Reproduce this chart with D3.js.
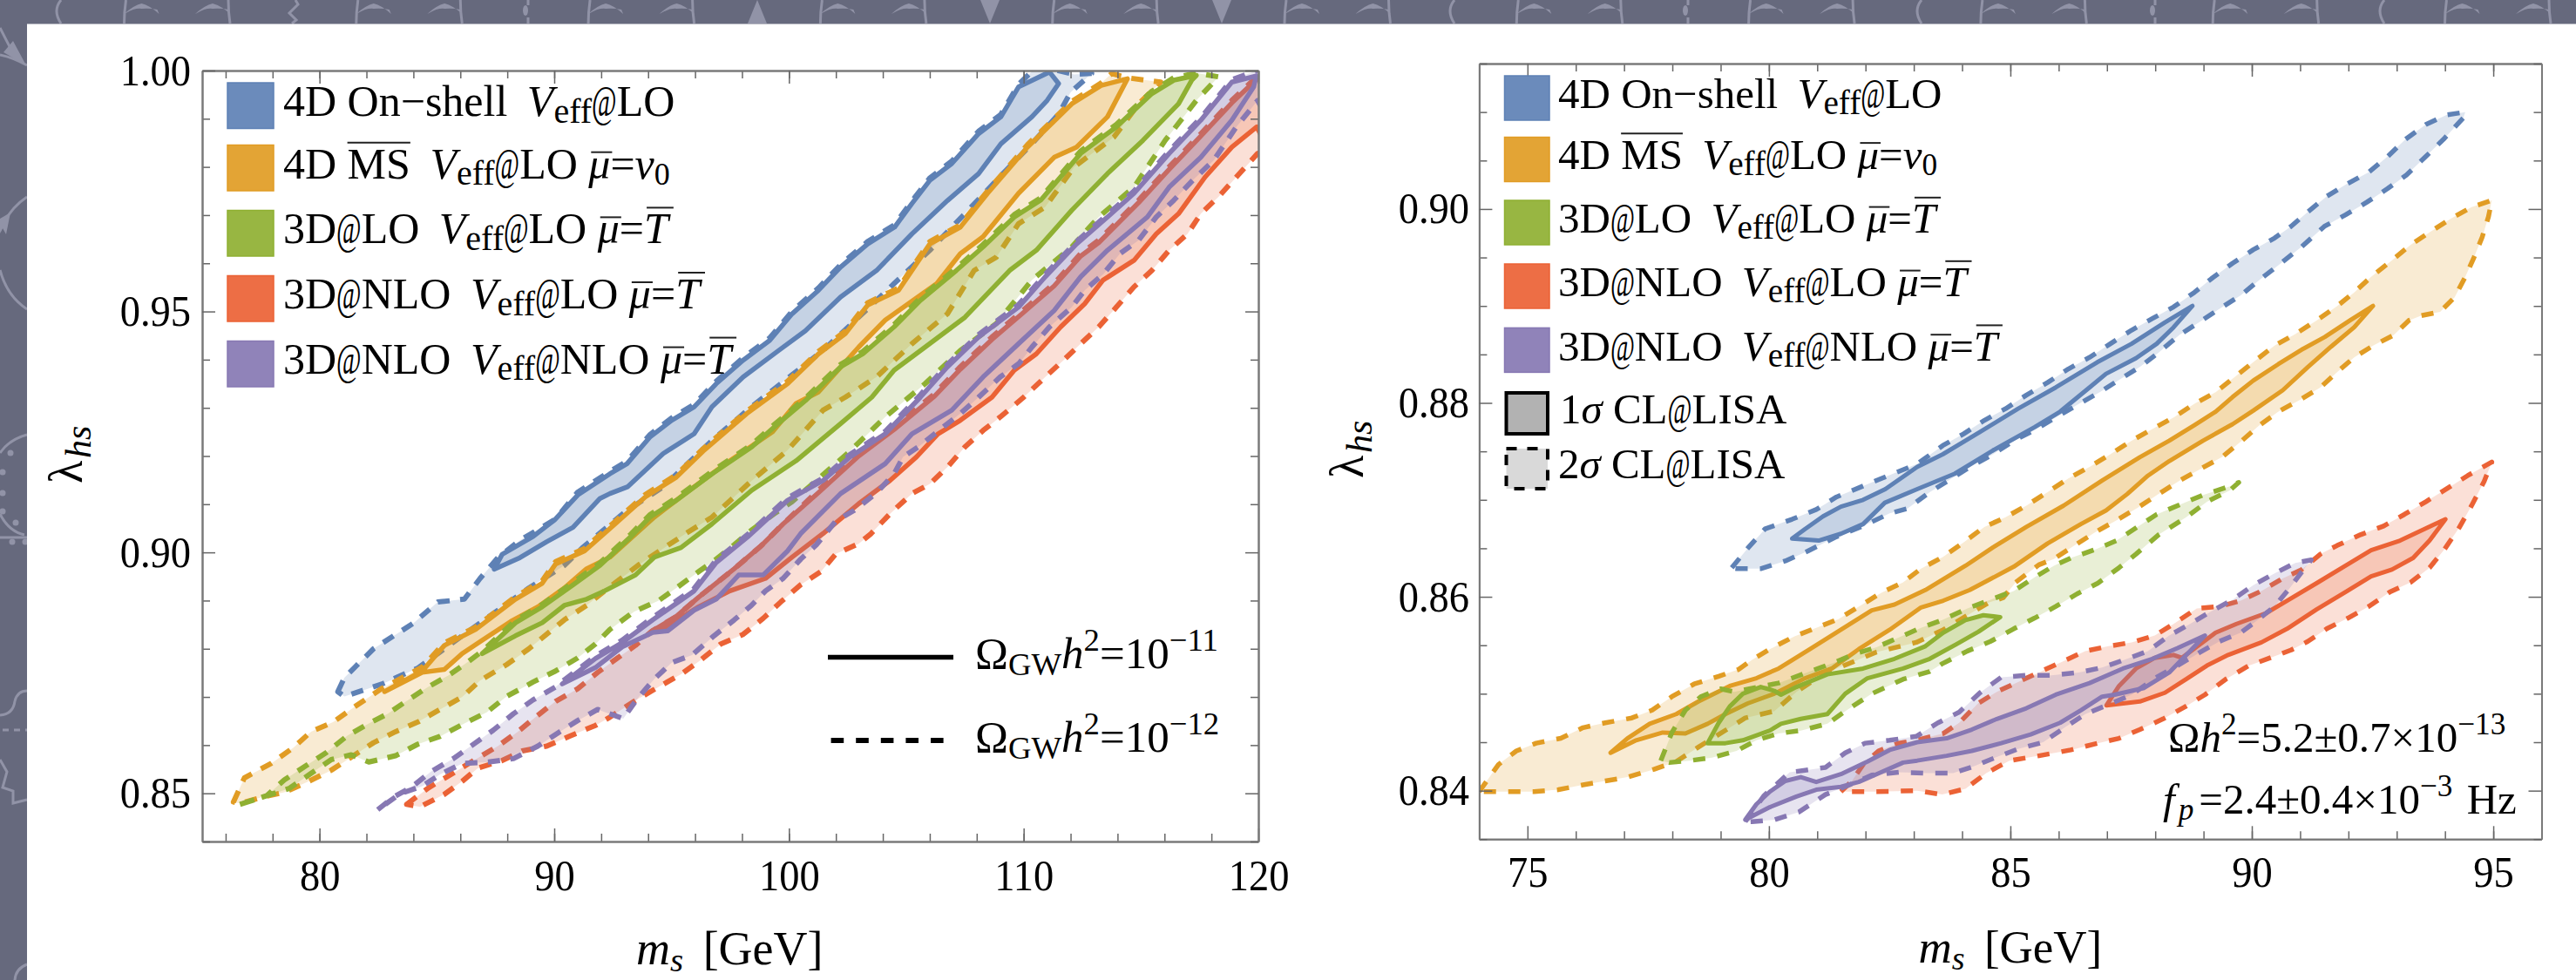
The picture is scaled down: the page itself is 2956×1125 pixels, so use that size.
<!DOCTYPE html>
<html>
<head>
<meta charset="utf-8">
<script src="https://cdn.jsdelivr.net/npm/d3@7"></script>
<style>
html, body { margin: 0; padding: 0; background: #fff; }
svg { display: block; }
text { font-family: "Liberation Serif", "Times New Roman", serif; fill: #000; }
</style>
</head>
<body>
<div id="chart"></div>
<script>
// ---- values: [m_s in GeV, lambda_hs] ----
// left panel, Omega h^2 = 1e-12 (dashed) and 1e-11 (solid)
const leftBlueOuter = [[80.78,.8711],[81.06,.874],[82.3,.88],[84,.8853],[85.04,.8897],[86.17,.8903],[86.84,.8946],[87.6,.8989],[88.54,.9025],[90.05,.9069],[91,.9125],[92.37,.9168],[93.1,.9189],[94.07,.9244],[95,.9279],[95.96,.9307],[96.9,.9355],[98.05,.9404],[99.18,.9445],[100.13,.95],[101.26,.9549],[102.2,.9597],[103.35,.9645],[104.5,.968],[105.24,.9729],[106,.9777],[106.94,.9812],[108.08,.9874],[109.03,.9909],[109.78,.9971],[110.6,1.001],[112.15,.9992],[112.9,.9994],[112,.9955],[111.5,.991],[110.35,.9848],[109,.978],[107.5,.9703],[106,.9627],[104.48,.9558],[102.97,.9488],[101.45,.9419],[98.4,.9302],[96.72,.9232],[94.64,.9136],[93.1,.9087],[92.9,.9079],[91.19,.9009],[90.43,.8973],[88.92,.8926],[87.4,.8873],[86.08,.8827],[85.04,.879],[84.19,.876],[82.67,.8727],[81.06,.8701]];
const leftBlueInner = [[87.44,.8965],[87.78,.8996],[89.1,.9033],[90.05,.9069],[91,.9119],[92.37,.9163],[93.1,.9184],[94.07,.9239],[95,.9274],[95.96,.9302],[96.9,.935],[98.05,.9399],[99.18,.944],[100.13,.9495],[101.26,.9544],[102.2,.9592],[103.35,.964],[104.5,.9675],[105.24,.9724],[106,.9772],[106.94,.9807],[108.08,.9869],[109.03,.9904],[109.78,.9966],[111.1,.9997],[111.49,.9973],[111,.9938],[110.35,.9904],[109.03,.9848],[108.08,.9786],[106.75,.973],[105.24,.9661],[103.73,.9585],[102.2,.953],[100.7,.946],[99.56,.9419],[98.05,.9364],[96.72,.9302],[95.96,.9246],[94.64,.9205],[93.12,.9136],[92.37,.9122],[91.95,.9112],[90.8,.9052],[89.68,.9022],[88.54,.8989]];
const leftOrangeOuter = [[76.33,.8482],[76.8,.8532],[77.94,.8562],[78.89,.8595],[79.64,.8628],[80.59,.8648],[81.54,.8681],[82.67,.8718],[84.38,.8762],[85.32,.8812],[86.65,.8845],[88.35,.8908],[89.49,.8941],[90.06,.8981],[91.29,.9008],[92.52,.9061],[93.88,.912],[95.2,.9161],[96.34,.9215],[98.2,.9293],[99.94,.9355],[101.26,.9417],[102.4,.9459],[103.35,.9518],[104.67,.9549],[106,.9645],[107.3,.968],[108.46,.975],[110.16,.9846],[112.05,.9936],[113.3,.9974],[113.76,.9994],[114.42,.9985],[115.84,.9976],[114.9,.9931],[113.85,.9862],[112.15,.98],[110.92,.9717],[109.78,.9682],[108.84,.9613],[107.89,.9585],[106.75,.9495],[105.24,.9433],[103.73,.9364],[102.4,.9322],[101.45,.9295],[99.94,.9212],[98.42,.9149],[96.72,.9073],[95.6,.9039],[93.65,.8976],[92.3,.8926],[91.38,.889],[90.43,.886],[88.92,.88],[87.97,.8767],[86.84,.8734],[86.08,.87],[85.13,.8674],[84.19,.8648],[83.24,.8628],[82.3,.8605],[81.35,.8575],[80.5,.8548],[79.55,.8525],[78.5,.8502],[77.56,.8492],[76.6,.8479]];
const leftOrangeInner = [[82.77,.8711],[84.38,.8754],[85.32,.8807],[86.65,.884],[88.35,.8903],[89.49,.8936],[90.06,.8976],[91.29,.9003],[92.52,.9056],[93.88,.9115],[95.2,.9156],[96.34,.921],[98.2,.9288],[99.94,.935],[101.26,.9412],[102.4,.9454],[103.35,.9513],[104.67,.9544],[106,.964],[107.3,.9675],[108.46,.9745],[110.16,.9841],[112.05,.9931],[113.3,.9969],[114.42,.9983],[113.57,.9904],[112.25,.9841],[111.3,.982],[109.78,.9745],[108.27,.9655],[107.3,.962],[106.3,.9558],[104.1,.9482],[102.97,.9426],[101.26,.9333],[100.3,.9309],[99.3,.925],[97.3,.9184],[95.77,.9129],[94.26,.9073],[92.37,.899],[91.38,.8966],[90.43,.8926],[89.3,.8887],[88.16,.8857],[87,.882],[86.08,.879],[85.32,.8757],[84.38,.8751]];
const leftGreenOuter = [[76.61,.8477],[77.75,.8495],[78.5,.8528],[79.45,.8558],[80.3,.8585],[81.2,.862],[82.1,.8645],[82.9,.8665],[83.6,.8688],[84.6,.872],[85.5,.8745],[86.3,.8772],[86.93,.8795],[88.35,.8859],[89.49,.8892],[90.81,.8938],[91.95,.8978],[93.27,.9038],[94.07,.9078],[95.2,.9113],[96.72,.9168],[98.42,.9224],[99.37,.9265],[100.7,.932],[102.2,.939],[103.15,.9417],[104.48,.9473],[105.6,.9528],[107.13,.959],[108.27,.9639],[109.6,.9701],[110.73,.9736],[112.43,.9833],[113.95,.9888],[115.46,.9957],[116.4,.9985],[117.36,.9995],[118.3,.9987],[117.36,.9938],[116.03,.9855],[114.7,.9758],[113.2,.9696],[112.05,.9634],[110.35,.9565],[108.84,.9475],[107.3,.9419],[105.8,.935],[104.1,.9281],[102.6,.921],[100.13,.9105],[99.37,.908],[98.4,.9046],[97.67,.9016],[96.9,.8986],[96.15,.896],[95.2,.8926],[94.45,.89],[93.4,.8877],[92.37,.884],[91.76,.881],[91,.8781],[90.06,.8754],[89.1,.8731],[87.97,.8701],[87.12,.8668],[86.17,.8645],[85.13,.8618],[84.19,.8602],[83.24,.8578],[82.1,.8565],[81.35,.858],[80.5,.857],[79.6,.854],[78.7,.851]];
const leftGreenInner = [[86.93,.879],[88.35,.8854],[89.49,.8887],[90.81,.8933],[91.95,.8973],[93.27,.9033],[94.07,.9073],[95.2,.9108],[96.72,.9163],[98.42,.9219],[99.37,.926],[100.7,.9315],[102.2,.9385],[103.15,.9412],[104.48,.9468],[105.6,.9523],[107.13,.9585],[108.27,.9634],[109.6,.9696],[110.73,.9731],[112.43,.9828],[113.95,.9883],[115.46,.9952],[116.4,.998],[117.36,.999],[117.16,.998],[116.6,.9931],[115.08,.9855],[113.57,.9786],[112.05,.971],[110.54,.9627],[109.4,.9585],[107.5,.9488],[105.8,.9426],[104.48,.9378],[103.53,.9322],[102.2,.9267],[100.3,.919],[98.42,.9129],[96.72,.9059],[95.4,.901],[94.26,.899],[93.46,.8953],[92.14,.892],[91.38,.8903],[90.43,.889],[89.49,.8854],[88.35,.8827]];
const leftRedOuter = [[83.71,.8477],[84.66,.8512],[85.7,.8542],[86.46,.8565],[87.6,.8598],[88.45,.8628],[89.2,.8658],[90.06,.8691],[91,.8717],[91.85,.8751],[92.7,.8781],[93.46,.8807],[94.17,.8837],[95.2,.8867],[96.15,.8907],[97.67,.8966],[98.8,.9013],[99.75,.9059],[101.26,.9129],[102.97,.9205],[104.48,.926],[106.2,.9329],[107.3,.9385],[108.65,.9447],[109.97,.9502],[111.3,.9558],[112.43,.962],[113.2,.9648],[114.9,.9731],[116.2,.98],[117.55,.9869],[118.87,.9938],[119.93,.9987],[120.5,.9985],[120.5,.9795],[119.97,.9828],[119.06,.9779],[118.3,.9738],[117.55,.9703],[116.98,.9661],[116.2,.9627],[115.46,.9585],[114.7,.9551],[113.95,.9509],[113.2,.9468],[112.43,.9433],[111.7,.9399],[110.92,.9364],[110,.9322],[109,.9281],[108.27,.9253],[107.5,.9219],[106.75,.9177],[106,.9142],[105.24,.9122],[104.3,.908],[103.5,.9039],[102.97,.9018],[102,.8997],[101.36,.896],[100.5,.8933],[99.65,.8897],[98.9,.8863],[98.05,.883],[97.1,.881],[96.25,.8777],[95.4,.8747],[94.45,.8721],[93.5,.8694],[92.37,.8658],[91.76,.8641],[90.62,.8618],[89.68,.8598],[88.64,.8588],[87.78,.8568],[86.74,.8552],[86.08,.8525],[85.32,.8498],[84.28,.8472]];
const leftRedInner = [[94.17,.8837],[95.2,.8867],[96.15,.8907],[97.67,.8966],[98.8,.9013],[99.75,.9059],[101.26,.9124],[102.97,.92],[104.48,.9255],[106.2,.9324],[107.3,.938],[108.65,.9442],[109.97,.9497],[111.3,.9553],[112.43,.9615],[113.2,.9643],[114.9,.9726],[116.2,.9795],[117.55,.9864],[118.87,.9933],[119.93,.9982],[120.5,.998],[120.5,.983],[119.93,.9883],[118.87,.9841],[117.73,.9779],[116.6,.9703],[115.65,.9661],[114.7,.9606],[113.38,.9565],[112.6,.9516],[111.58,.9468],[110.54,.9412],[109.6,.9378],[108.65,.9322],[107.3,.9274],[106.35,.9246],[105.43,.9198],[104.3,.9149],[102.97,.9101],[101.45,.9039],[100.13,.899],[99,.8946],[97.48,.892],[96.15,.8887],[94.83,.8847]];
const leftPurpleOuter = [[82.48,.8466],[83.15,.8492],[83.9,.8512],[84.75,.8545],[85.7,.8572],[86.65,.8605],[87.4,.8631],[88.26,.8665],[89.1,.8694],[90.06,.8721],[90.34,.8732],[91.76,.8785],[92.9,.8818],[94.2,.8865],[95.96,.8925],[96.9,.8984],[98.24,.9037],[99.94,.9113],[101.45,.9154],[102.6,.9203],[104.1,.9251],[105.6,.9327],[106.75,.939],[108.08,.9452],[109.78,.9514],[110.92,.9577],[112.25,.9645],[113.57,.9701],[114.7,.975],[116.2,.9833],[117.55,.9902],[118.87,.9981],[120.5,1.001],[120.5,.989],[119.97,.9938],[119.06,.9883],[118.1,.9814],[117.2,.9772],[116.4,.9731],[115.65,.9696],[114.9,.9648],[114.1,.962],[113.4,.9578],[112.6,.9544],[112.05,.9509],[111.1,.9468],[110.35,.9426],[109.8,.9392],[109,.9364],[108.08,.9322],[107.3,.9288],[106.57,.926],[105.6,.9222],[104.86,.9198],[104.48,.9163],[103.7,.9122],[102.77,.9087],[102,.9065],[101.17,.9016],[100.5,.8986],[99.75,.8946],[99,.892],[98.4,.889],[97.67,.886],[96.81,.8827],[95.87,.8787],[95,.8771],[94.26,.8737],[93.5,.8694],[92.94,.8655],[91.85,.8674],[91,.8651],[90.24,.8628],[89.3,.8598],[88.26,.8572],[87.2,.8565],[86.08,.8562],[85.13,.8539],[84.38,.8515],[83.43,.8499]];
const leftPurpleInner = [[90.34,.8727],[91.76,.878],[92.9,.8813],[94.2,.886],[95.96,.892],[96.9,.8979],[98.24,.9032],[99.94,.9108],[101.45,.9149],[102.6,.9198],[104.1,.9246],[105.6,.9322],[106.75,.9385],[108.08,.9447],[109.78,.9509],[110.92,.9572],[112.25,.964],[113.57,.9696],[114.7,.9745],[116.2,.9828],[117.55,.9897],[118.87,.9976],[119.91,.9989],[119.8,.9966],[118.87,.9897],[117.55,.982],[116.2,.9758],[115.27,.9696],[113.57,.9627],[112.43,.9572],[111.3,.9502],[109.78,.9433],[108.27,.9364],[106.94,.9295],[105.24,.9246],[104.1,.9184],[102.2,.9122],[100.5,.9039],[99.94,.9003],[98.9,.8953],[97.86,.8953],[96.9,.8903],[95.96,.888],[94.83,.8837],[94.2,.8834],[92.9,.8804],[91.76,.8761]];

// right panel, 1 sigma (solid) and 2 sigma (dashed)
const rightBlueOuter = [[79.23,.863],[79.56,.865],[79.92,.867],[80.48,.868],[80.98,.869],[81.4,.8703],[82.23,.872],[83.07,.8737],[83.6,.8756],[84.03,.8768],[84.46,.8782],[84.9,.8794],[85.33,.8808],[85.77,.8821],[86.2,.8835],[86.64,.8847],[87.07,.8861],[87.51,.8875],[87.94,.8887],[88.38,.8899],[88.81,.8914],[89.16,.8928],[89.6,.8944],[90.03,.8958],[90.47,.897],[90.81,.8982],[91.16,.8997],[91.55,.9013],[91.94,.9025],[92.42,.9038],[92.81,.9054],[93.16,.9071],[93.6,.9087],[94.03,.9097],[94.42,.91],[94.38,.9094],[93.99,.9073],[93.6,.9054],[93.2,.9035],[92.81,.9021],[92.38,.9007],[91.94,.8994],[91.5,.8982],[91.03,.8961],[90.55,.8942],[90.16,.8927],[89.77,.8911],[89.33,.8897],[88.9,.8883],[88.5,.887],[88.07,.8852],[87.68,.8837],[87.29,.8825],[86.85,.8811],[86.42,.8799],[85.94,.8785],[85.5,.8772],[85.07,.8761],[84.64,.8747],[84.2,.8735],[83.72,.872],[83.33,.8708],[82.87,.8691],[82.5,.8686],[81.95,.8673],[81.4,.8662],[80.8,.8647],[80.34,.8637],[79.83,.8629],[79.33,.8629]];
const rightBlueInner = [[80.48,.866],[80.75,.867],[81.12,.8683],[81.49,.8693],[81.95,.87],[82.41,.8711],[83.07,.8734],[83.6,.8747],[84.37,.877],[85.16,.8794],[85.94,.8816],[86.8,.8842],[87.51,.8861],[88.2,.8883],[88.77,.89],[88.38,.8878],[88.03,.8861],[87.6,.8846],[86.98,.883],[86.64,.8816],[86.03,.8791],[85.5,.8775],[84.64,.8751],[83.85,.8727],[83.07,.8711],[82.4,.8697],[81.95,.8675],[81.49,.8665],[81.03,.8658]];
const rightOrangeOuter = [[74,.8399],[74.4,.8427],[74.77,.8441],[75.18,.8449],[75.69,.8454],[76.15,.8465],[76.61,.847],[77.16,.8475],[77.58,.8483],[77.99,.8497],[78.45,.851],[78.96,.8518],[79.37,.8525],[79.65,.8535],[80.02,.8546],[80.52,.8559],[80.98,.8568],[81.44,.8577],[81.9,.8591],[82.32,.8604],[82.78,.8615],[83.15,.8629],[83.6,.8641],[84.03,.8656],[84.46,.8672],[84.9,.8682],[85.33,.8694],[85.77,.8708],[86.2,.8722],[86.64,.8734],[87.07,.8747],[87.51,.8761],[87.94,.8773],[88.38,.8785],[88.81,.8799],[89.25,.8811],[89.68,.8828],[90.03,.8842],[90.47,.8859],[90.9,.8871],[91.34,.8885],[91.77,.89],[92.12,.8914],[92.47,.893],[92.9,.8947],[93.29,.8963],[93.68,.8976],[94.12,.899],[94.55,.9002],[94.97,.9009],[94.9,.8992],[94.77,.8971],[94.6,.895],[94.42,.893],[94.2,.8909],[93.9,.8894],[93.51,.889],[93.25,.8885],[92.94,.887],[92.51,.8859],[92.12,.8847],[91.77,.8832],[91.42,.8816],[90.99,.8803],[90.55,.8791],[90.16,.8777],[89.77,.876],[89.38,.8744],[88.94,.8732],[88.51,.872],[88.07,.8706],[87.64,.8692],[87.2,.8679],[86.77,.8667],[86.33,.8653],[85.9,.8639],[85.59,.8633],[85.11,.8615],[84.85,.8599],[84.55,.8594],[83.61,.8566],[83.05,.8553],[82.23,.8543],[81.12,.852],[80.57,.8502],[80.11,.8482],[79.51,.8475],[78.54,.8445],[78.08,.843],[77.62,.8422],[77.07,.8414],[76.61,.841],[76.15,.8406],[75.64,.8401],[75.14,.8399],[74.58,.8399]];
const rightOrangeInner = [[76.72,.8439],[77.07,.8454],[77.53,.8469],[78.08,.8479],[78.54,.8492],[79.19,.8508],[79.74,.8516],[80.2,.8526],[80.85,.8546],[81.49,.8566],[82.13,.8586],[82.6,.8592],[83.24,.8607],[84.07,.8632],[84.64,.8651],[85.33,.8672],[86.1,.8694],[86.9,.872],[87.68,.8744],[88.29,.8761],[88.81,.8777],[89.25,.8791],[89.6,.8806],[90.03,.8823],[90.55,.884],[91.07,.8856],[91.51,.8868],[92.03,.8885],[92.51,.89],[92.12,.8878],[91.64,.8858],[91.16,.8837],[90.64,.8813],[90.03,.8792],[89.6,.8778],[88.99,.8761],[88.29,.874],[87.85,.8725],[87.42,.8706],[86.98,.8689],[86.46,.8675],[85.77,.8655],[85.07,.8631],[84.16,.8607],[83.61,.8596],[83.15,.8589],[82.5,.8566],[81.86,.8546],[81.3,.8526],[80.75,.8516],[80.11,.85],[79.56,.849],[79.1,.8479],[78.73,.8469],[78.27,.8459],[77.8,.846],[77.25,.8452]];
const rightGreenOuter = [[77.76,.8431],[77.99,.846],[78.27,.8483],[78.59,.8497],[79,.8505],[79.28,.8502],[80.2,.8511],[80.85,.8523],[81.4,.8533],[81.77,.8541],[82.23,.8548],[82.69,.8558],[83.15,.8568],[83.59,.8576],[84.11,.8588],[84.59,.8597],[85.07,.8606],[85.5,.862],[85.9,.8632],[86.25,.864],[86.77,.8649],[87.2,.8658],[87.6,.8671],[88.03,.8685],[88.46,.8694],[88.99,.8705],[89.55,.8714],[89.73,.8718],[89.55,.871],[89.07,.8698],[88.64,.8682],[88.07,.8664],[87.6,.8644],[87.25,.863],[86.81,.8614],[86.38,.8603],[85.94,.859],[85.5,.8578],[85.07,.8567],[84.59,.8554],[84.11,.8544],[83.59,.8531],[83.33,.8523],[82.78,.8515],[82.13,.85],[81.58,.8482],[81.21,.8469],[80.66,.8462],[80.2,.8459],[79.74,.8452],[79.33,.8441],[78.82,.8434],[78.36,.8431],[77.94,.8429]];
const rightGreenInner = [[78.73,.8449],[78.96,.847],[79.19,.8487],[79.46,.85],[79.83,.8507],[80.11,.8503],[80.25,.8499],[80.57,.8507],[81.21,.852],[81.95,.8526],[82.6,.8536],[83.24,.8549],[83.61,.8563],[84.07,.8576],[84.44,.8581],[84.79,.8579],[84.34,.8564],[83.88,.8551],[83.33,.8536],[82.78,.8526],[82.04,.8516],[81.58,.85],[81.21,.8479],[80.66,.8474],[80.25,.8469],[80.02,.8462],[79.46,.8452],[79.1,.8449]];
const rightRedOuter = [[81.49,.8399],[81.72,.841],[81.95,.8427],[82.27,.8441],[82.69,.8449],[83.05,.8452],[83.61,.8459],[83.94,.847],[84.33,.849],[84.72,.8502],[85.11,.8511],[85.59,.8522],[86.07,.8533],[86.55,.8544],[87.03,.8549],[87.51,.8553],[87.99,.856],[88.38,.8572],[88.86,.8588],[89.33,.859],[89.77,.8596],[90.2,.8606],[90.64,.8619],[91.03,.8628],[91.42,.8644],[91.77,.8653],[92.25,.8664],[92.73,.8673],[93.16,.8685],[93.6,.8698],[93.99,.871],[94.47,.8725],[94.97,.8739],[94.81,.8719],[94.55,.8694],[94.29,.8671],[93.99,.8649],[93.68,.863],[93.29,.8615],[92.86,.8605],[92.42,.859],[91.99,.8578],[91.55,.8567],[91.16,.8554],[90.81,.8545],[90.38,.8537],[89.94,.8529],[89.46,.8515],[89.03,.8499],[88.6,.8486],[88.16,.8474],[87.68,.8463],[87.25,.8454],[86.81,.8449],[86.25,.8442],[85.59,.8436],[84.98,.8431],[84.5,.8418],[84.07,.8402],[83.59,.8396],[83.07,.84],[82.23,.8399]];
const rightRedInner = [[86.99,.8488],[87.25,.8508],[87.6,.8526],[87.99,.8537],[88.38,.854],[88.55,.8537],[89.25,.8563],[89.68,.8572],[90.29,.8583],[90.73,.8596],[91.34,.8614],[91.94,.8632],[92.47,.8648],[93.07,.8658],[94.01,.868],[93.68,.8658],[93.34,.864],[92.9,.8628],[92.47,.8621],[91.94,.8605],[91.34,.8587],[90.73,.8567],[90.2,.8553],[89.51,.854],[89.07,.8529],[88.64,.8515],[88.2,.8501],[87.68,.8492]];
const rightPurpleOuter = [[79.51,.8368],[79.9,.8395],[80.43,.8419],[80.75,.8421],[81.17,.8424],[81.58,.8439],[81.99,.8449],[82.5,.8452],[83.05,.8456],[83.5,.847],[83.94,.8481],[84.37,.8501],[84.81,.8517],[85.33,.8519],[85.85,.8519],[86.42,.8522],[86.9,.8527],[87.42,.8536],[87.85,.8544],[88.29,.856],[88.72,.8572],[89.16,.8585],[89.6,.8597],[90.03,.8612],[90.47,.8624],[90.9,.8635],[91.23,.8638],[91.07,.8628],[90.77,.8608],[90.47,.859],[90.12,.8576],[89.77,.8563],[89.33,.8554],[88.9,.8542],[88.46,.8529],[88.03,.8517],[87.51,.8499],[86.99,.8488],[86.55,.8479],[86.12,.8465],[85.68,.845],[85.16,.8443],[84.68,.8434],[84.24,.8425],[83.81,.8418],[83.29,.8418],[82.69,.8419],[82.13,.8416],[81.67,.8406],[81.17,.8396],[80.62,.8378],[80.11,.837],[79.65,.8368]];
const rightPurpleInner = [[79.51,.837],[79.74,.8386],[80.02,.8399],[80.34,.841],[80.66,.8414],[80.98,.8409],[81.49,.8417],[82.04,.843],[82.5,.8442],[83.07,.845],[83.68,.8454],[84.2,.8463],[84.72,.8474],[85.33,.8485],[85.94,.8499],[86.64,.8511],[87.33,.8526],[87.94,.8536],[88.46,.8547],[89.03,.856],[88.72,.8544],[88.29,.8522],[87.77,.8506],[87.16,.8499],[86.9,.8497],[86.46,.8483],[86.03,.847],[85.42,.8458],[84.81,.8449],[84.2,.8441],[83.68,.8436],[83.07,.8431],[82.78,.8429],[82.23,.8417],[81.86,.8409],[81.49,.8404],[80.98,.8401],[80.57,.8394],[80.02,.8383]];

const colors = ['#5E81B5', '#E19C24', '#8FB032', '#EB6235', '#8778B3'];
const leftOuter = [leftBlueOuter, leftOrangeOuter, leftGreenOuter, leftRedOuter, leftPurpleOuter];
const leftInner = [leftBlueInner, leftOrangeInner, leftGreenInner, leftRedInner, leftPurpleInner];
const rightOuter = [rightBlueOuter, rightOrangeOuter, rightGreenOuter, rightRedOuter, rightPurpleOuter];
const rightInner = [rightBlueInner, rightOrangeInner, rightGreenInner, rightRedInner, rightPurpleInner];

// tick values
const leftXMajor = [80, 90, 100, 110, 120];
const leftXMinor = d3.range(76, 120, 2);
const leftYMajor = [0.85, 0.90, 0.95, 1.00];
const leftYMinor = [0.84, 0.86, 0.87, 0.88, 0.89, 0.91, 0.92, 0.93, 0.94, 0.96, 0.97, 0.98, 0.99];
const rightXMajor = [75, 80, 85, 90, 95];
const rightXMinor = d3.range(76, 96, 1);
const rightYMajor = [0.84, 0.86, 0.88, 0.90];
const rightYMinor = [0.835, 0.845, 0.85, 0.855, 0.865, 0.87, 0.875, 0.885, 0.89, 0.895, 0.905, 0.91, 0.915];

// legend text, split into styled runs
const V = [{ t: 'V', i: 1, dx: 10 }, { t: 'eff', sub: 1, s: 0.8 }];
const AT = { t: '@', sx: 0.62 };
const muBar = [{ t: 'μ', i: 1, bar: 1 }, { t: '=' }];
const TBar = { t: 'T', i: 1, hbar: 1 };
const seriesLabels = [
	[{ t: '4D On−shell ' }, ...V, AT, { t: 'LO' }],
	[{ t: '4D ' }, { t: 'MS', hbar: 1 }, { t: ' ' }, ...V, AT, { t: 'LO ' }, ...muBar, { t: 'v', i: 1 }, { t: '0', sub: 1 }],
	[{ t: '3D' }, AT, { t: 'LO ' }, ...V, AT, { t: 'LO ' }, ...muBar, TBar],
	[{ t: '3D' }, AT, { t: 'NLO ' }, ...V, AT, { t: 'LO ' }, ...muBar, TBar],
	[{ t: '3D' }, AT, { t: 'NLO ' }, ...V, AT, { t: 'NLO ' }, ...muBar, TBar]
];
const clLabels = [
	[{ t: '1' }, { t: 'σ', i: 1 }, { t: ' CL' }, AT, { t: 'LISA' }],
	[{ t: '2' }, { t: 'σ', i: 1 }, { t: ' CL' }, AT, { t: 'LISA' }]
];
const omegaLabels = [
	[{ t: 'Ω' }, { t: 'GW', sub: 1 }, { t: 'h', i: 1 }, { t: '2', sup: 1 }, { t: '=10' }, { t: '−11', sup: 1 }],
	[{ t: 'Ω' }, { t: 'GW', sub: 1 }, { t: 'h', i: 1 }, { t: '2', sup: 1 }, { t: '=10' }, { t: '−12', sup: 1 }]
];
const fitLabels = [
	[{ t: 'Ω' }, { t: 'h', i: 1 }, { t: '2', sup: 1 }, { t: '=5.2±0.7×10' }, { t: '−13', sup: 1 }],
	[{ t: 'f', i: 1 }, { t: 'p', i: 1, sub: 1, dx: 4 }, { t: '=2.4±0.4×10', dx: 6 }, { t: '−3', sup: 1 }, { t: ' Hz', dx: 4 }]
];
const xTitle = [{ t: 'm', i: 1 }, { t: 's', i: 1, sub: 1 }, { t: ' [GeV]', dx: 9 }];
const yTitle = [{ t: 'λ' }, { t: 'hs', i: 1, sub: 1 }];

const svg = d3.select('#chart').append('svg').attr('width', 2956).attr('height', 1125);
const defs = svg.append('defs');

// Background strip with the pale pattern behind the white page
function drawBackground() {
	const pale = '#9193a7';
	svg.append('rect').attr('width', 2956).attr('height', 1125).attr('fill', '#66697d');
	const bg = svg.append('g').attr('fill', 'none').attr('stroke', pale).attr('stroke-width', 3);
	const period = 266.3;
	d3.range(0, 11).forEach((k) => {
		const a = 143.5 + period * k;
		const b = a + 119.5;
		bg.append('path').attr('d', `M${a + 1},0 Q${a - 1},14 ${a - 1},27`);
		bg.append('path').attr('d', `M${b - 1},0 Q${b - 1},14 ${b + 1},27`);
		[a + 19, b - 19].forEach((c) => {
			bg.append('path')
				.attr('fill', pale)
				.attr('stroke', 'none')
				.attr('d', `M${c - 20},16 Q${c - 9},6 ${c},4 Q${c + 9},6 ${c + 20},16 L${c + 18},11 Q${c + 8},9 ${c},10 Q${c - 8},9 ${c - 18},15 Z`);
		});
	});
	[67, 1666, 2202, 2733].forEach((x) => {
		bg.append('path').attr('d', `M${x + 3},0 Q${x - 7},12 ${x + 3},27`);
	});
	bg.append('path').attr('d', 'M339,0 L342,5 L332,15 L340,23 L335,27');
	[603, 1934, 2470].forEach((x) => {
		bg.append('ellipse').attr('cx', x).attr('cy', 12).attr('rx', 3).attr('ry', 6).attr('fill', pale).attr('stroke', 'none');
		bg.append('path').attr('d', `M${x + 3},0 L${x + 3},6 M${x + 3},20 L${x + 3},27`);
	});
	bg.append('path').attr('fill', pale).attr('stroke', 'none').attr('d', 'M869,0 L880,27 L858,27 Z');
	[1136, 1402].forEach((x) => {
		bg.append('path').attr('fill', pale).attr('stroke', 'none').attr('d', `M${x - 11},0 L${x + 11},0 L${x},27 Z`);
	});
	// left edge
	bg.append('path').attr('d', 'M0,32 Q8,48 15,61 M0,63 Q15,66 31,75 M0,265 Q10,240 31,226 M0,310 Q8,340 31,355 M0,617 L31,617');
	bg.append('path').attr('fill', pale).attr('stroke', 'none').attr('d', 'M15,47 L30,75 L4,60 Z M0,251 L12,244 L7,269 L3,262 L0,268 Z');
	bg.append('path').attr('d', 'M0,520 Q10,505 31,499 M0,590 Q10,610 28,614 M0,821 Q15,820 17,805 Q20,793 31,793 M0,872 L8,886 L3,904 L15,908 L15,922 L31,918 M17,1125 Q18,1112 31,1107');
	bg.append('path').attr('stroke-dasharray', '7,6').attr('d', 'M3,838 L31,838');
	[[12, 520], [3, 542], [3, 566], [3, 587], [18, 600], [14, 622], [29, 622]].forEach((d) => {
		bg.append('circle').attr('cx', d[0]).attr('cy', d[1]).attr('r', 3.5).attr('fill', pale).attr('stroke', 'none');
	});
	svg.append('rect').attr('x', 31).attr('y', 27.5).attr('width', 2925).attr('height', 1098).attr('fill', '#fff');
}

// Writes runs of text one after another, measuring each run
function richText(parent, x, y, runs, size) {
	let cx = x;
	runs.forEach((r) => {
		const s = r.sub || r.sup ? size * (r.s || 0.72) : size;
		const dy = r.sub ? size * 0.15 : r.sup ? -size * 0.4 : 0;
		cx += r.dx || 0;
		const node = parent.append('text')
			.attr('x', cx)
			.attr('y', y + dy)
			.attr('font-size', s)
			.attr('font-style', r.i ? 'italic' : 'normal')
			.attr('xml:space', 'preserve')
			.style('white-space', 'pre')
			.text(r.t);
		let w = node.node().getComputedTextLength();
		if (r.sx) {
			w *= r.sx;
			node.attr('textLength', w).attr('lengthAdjust', 'spacingAndGlyphs');
		}
		if (r.bar || r.hbar) {
			const up = r.hbar ? size * 0.82 : size * 0.6;
			parent.append('line')
				.attr('x1', cx + (r.i ? size * 0.06 : 0))
				.attr('x2', cx + w + (r.i ? size * (r.hbar ? 0.12 : 0.04) : 0))
				.attr('y1', y - up)
				.attr('y2', y - up)
				.attr('stroke', '#222')
				.attr('stroke-width', 2);
		}
		cx += w;
	});
	return cx;
}

function drawPanel(p) {
	const x = d3.scaleLinear().domain(p.xDomain).range([p.left, p.right]);
	const y = d3.scaleLinear().domain(p.yDomain).range([p.bottom, p.top]);
	const w = p.right - p.left;
	const h = p.bottom - p.top;
	const g = svg.append('g');

	defs.append('clipPath').attr('id', p.id).append('rect')
		.attr('x', p.left).attr('y', p.top).attr('width', w).attr('height', h);

	const line = d3.line().x((d) => x(d[0])).y((d) => y(d[1]));
	const plot = g.append('g').attr('clip-path', `url(#${p.id})`);
	p.outer.forEach((points, i) => {
		plot.append('path').attr('d', line(points) + 'Z')
			.attr('fill', colors[i]).attr('fill-opacity', 0.2)
			.attr('stroke', colors[i]).attr('stroke-width', p.dashW)
			.attr('stroke-dasharray', p.dash).attr('stroke-linejoin', 'round');
		plot.append('path').attr('d', line(p.inner[i]) + 'Z')
			.attr('fill', colors[i]).attr('fill-opacity', 0.2)
			.attr('stroke', colors[i]).attr('stroke-width', p.lineW)
			.attr('stroke-linejoin', 'round');
	});

	// Axes on all four sides, labels only bottom and left
	const tick = (sel) => {
		sel.selectAll('.domain').attr('stroke', '#7a7a7a').attr('stroke-width', 2);
		sel.selectAll('.tick line').attr('stroke', '#666').attr('stroke-width', 1.5);
		sel.selectAll('text')
			.attr('font-size', 50)
			.attr('font-family', '"Liberation Serif", serif')
			.attr('fill', '#000')
			.each(function () {
				if (this.textContent) {
					d3.select(this)
						.attr('textLength', this.getComputedTextLength() * 0.93)
						.attr('lengthAdjust', 'spacingAndGlyphs');
				}
			});
	};
	const axisSet = [
		[d3.axisBottom(x).tickValues(p.xMinor).tickSize(-9).tickFormat(''), 0, p.bottom],
		[d3.axisBottom(x).tickValues(p.xMajor).tickSize(-15).tickPadding(p.xPad).tickFormat(d3.format('d')), 0, p.bottom],
		[d3.axisTop(x).tickValues(p.xMinor).tickSize(-9).tickFormat(''), 0, p.top],
		[d3.axisTop(x).tickValues(p.xMajor).tickSize(-15).tickFormat(''), 0, p.top],
		[d3.axisLeft(y).tickValues(p.yMinor).tickSize(-9).tickFormat(''), p.left, 0],
		[d3.axisLeft(y).tickValues(p.yMajor).tickSize(-15).tickPadding(p.yPad).tickFormat(d3.format('.2f')), p.left, 0],
		[d3.axisRight(y).tickValues(p.yMinor).tickSize(-9).tickFormat(''), p.right, 0],
		[d3.axisRight(y).tickValues(p.yMajor).tickSize(-15).tickFormat(''), p.right, 0]
	];
	axisSet.forEach((a) => {
		g.append('g').attr('transform', `translate(${a[1]},${a[2]})`).call(a[0].tickSizeOuter(0)).call(tick);
	});

	// Axis titles
	richText(g, p.xTitleX, p.xTitleY, xTitle, p.titleSize);
	const yg = g.append('g').attr('transform', `translate(${p.yTitleX},${p.yTitleY}) rotate(-90)`);
	richText(yg, 0, 0, [yTitle[0]], 54);
	yg.append('text').attr('x', 29).attr('y', 0).attr('dy', 10).attr('font-size', 42).attr('font-style', 'italic').text(yTitle[1].t);

	// Legend
	seriesLabels.forEach((runs, i) => {
		g.append('rect')
			.attr('x', p.swatchX).attr('y', p.swatchY[i])
			.attr('width', p.swatchW).attr('height', p.swatchH)
			.attr('fill', colors[i]).attr('fill-opacity', 0.92)
			.attr('stroke', colors[i]).attr('stroke-width', 1.5);
		richText(g, p.legendX, p.legendY[i], runs, p.legendSize);
	});
	return g;
}

drawBackground();

const leftPanel = drawPanel({
	id: 'clip-left',
	outer: leftOuter,
	inner: leftInner,
	xDomain: [75, 120],
	yDomain: [0.84, 1.0],
	left: 232, right: 1444, top: 81, bottom: 966,
	xMajor: leftXMajor, xMinor: leftXMinor, yMajor: leftYMajor, yMinor: leftYMinor,
	xPad: 20, yPad: 13,
	lineW: 5.5, dashW: 6, dash: '14,12',
	xTitleX: 730, xTitleY: 1107, titleSize: 54,
	yTitleX: 94, yTitleY: 555,
	swatchX: 261, swatchY: [95, 166.5, 241.5, 316.5, 391.5], swatchW: 53, swatchH: 52.5,
	legendX: 325, legendY: [133, 204.7, 279.4, 354, 428.6], legendSize: 50
});

const rightPanel = drawPanel({
	id: 'clip-right',
	outer: rightOuter,
	inner: rightInner,
	xDomain: [74, 96],
	yDomain: [0.835, 0.915],
	left: 1697.4, right: 2916.5, top: 73, bottom: 963.3,
	xMajor: rightXMajor, xMinor: rightXMinor, yMajor: rightYMajor, yMinor: rightYMinor,
	xPad: 19, yPad: 11.4,
	lineW: 5, dashW: 5.5, dash: '14,14',
	xTitleX: 2201.5, xTitleY: 1105, titleSize: 53,
	yTitleX: 1564, yTitleY: 549,
	swatchX: 1726.5, swatchY: [87, 157.5, 230, 303, 376.4], swatchW: 51.5, swatchH: 51,
	legendX: 1788, legendY: [123.5, 193.5, 267, 340, 413.6], legendSize: 49
});

// Line style key, left panel
leftPanel.append('line').attr('x1', 950).attr('x2', 1094).attr('y1', 754.6).attr('y2', 754.6)
	.attr('stroke', '#000').attr('stroke-width', 5.5);
leftPanel.append('line').attr('x1', 953.6).attr('x2', 1082.6).attr('y1', 850).attr('y2', 850)
	.attr('stroke', '#000').attr('stroke-width', 6).attr('stroke-dasharray', '14.6,14');
richText(leftPanel, 1119, 767, omegaLabels[0], 51);
richText(leftPanel, 1119, 863, omegaLabels[1], 51);

// CL key, right panel
rightPanel.append('rect').attr('x', 1728.5).attr('y', 451).attr('width', 47.5).attr('height', 47)
	.attr('fill', '#b2b2b2').attr('stroke', '#000').attr('stroke-width', 4);
rightPanel.append('rect').attr('x', 1728.5).attr('y', 515).attr('width', 47.5).attr('height', 46)
	.attr('fill', '#d9d9d9').attr('stroke', '#000').attr('stroke-width', 4).attr('stroke-dasharray', '12,12');
richText(rightPanel, 1790, 486, clLabels[0], 49);
richText(rightPanel, 1788, 549.4, clLabels[1], 49);

// Fit values, right panel
richText(rightPanel, 2488, 862.7, fitLabels[0], 49);
richText(rightPanel, 2482, 933.6, fitLabels[1], 49);
</script>
</body>
</html>
